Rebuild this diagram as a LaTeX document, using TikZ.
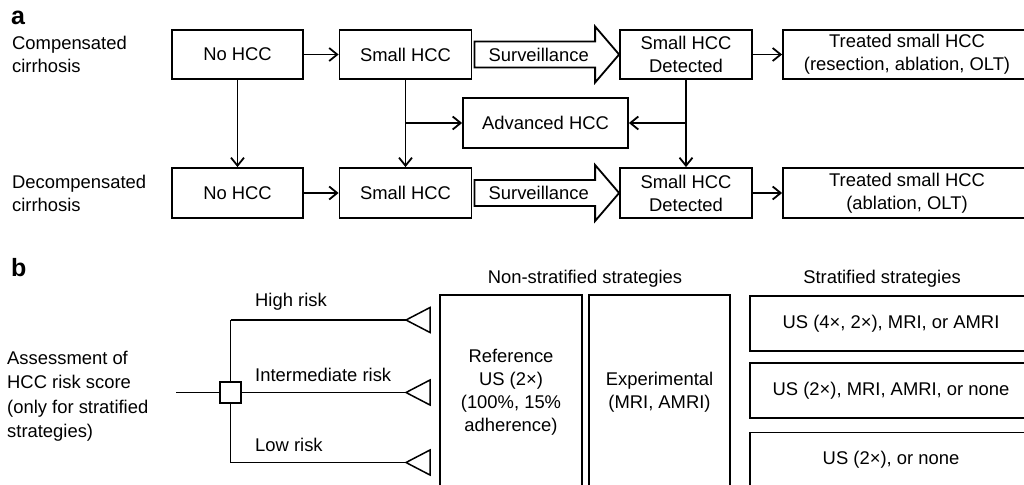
\documentclass[tikz,border=0pt]{standalone}
\usepackage{fontspec}
\setmainfont{Liberation Sans}
\usetikzlibrary{arrows.meta,calc}

% the page: everything reaching over it is cut off
\def\canvas{(0,0) rectangle (1024,484)}

\tikzset{
    box/.style={draw, line width=1.8pt, minimum height=49pt, align=center, inner sep=1pt},
    link/.style={line width=1.8pt, -{Straight Barb[length=8pt,width=13pt]}},
    plain/.style={line width=1.8pt},
    txt/.style={inner sep=0pt, align=left},
    panel/.style={inner sep=0pt, font=\fontsize{25}{25}\selectfont\bfseries},
}

% wide arrow with the word Surveillance, from the east side of #1
% to the west side of #2
\newcommand{\survarrow}[2]{%
    \draw[plain, fill=white]
        ($(#1.east)+(2,-13)$) -- ($(#2.west)+(-24,-13)$)
        -- ($(#2.west)+(-24,-28)$) -- (#2.west)
        -- ($(#2.west)+(-24,28)$) -- ($(#2.west)+(-24,13)$)
        -- ($(#1.east)+(2,13)$) -- cycle;
    \node[txt] (#1surv) at ($(#1.east)!0.5!(#2.west)+(-7,0)$) {Surveillance};
}

\begin{document}
\begin{tikzpicture}[x=1pt, y=-1pt, font=\fontsize{18.4}{23}\selectfont]
    \useasboundingbox \canvas;
    \clip \canvas;

    % ---------- panel a ----------
    \node[panel, anchor=west] (pa) at (11,18) {a};
    \node[txt, anchor=west] (comp) at (12,54.5) {Compensated\\cirrhosis};
    \node[txt, anchor=west] (decomp) at (12,193.5) {Decompensated\\cirrhosis};

    % compensated row
    \node[box, minimum width=131pt] (nohcc1) at (237.5,54.5) {No HCC};
    \node[box, minimum width=132pt] (small1) at (405.5,54.5) {Small HCC};
    \node[box, minimum width=132pt] (det1) at (686,54.5) {Small HCC\\Detected};
    \node[box, minimum width=248pt] (treat1) at (907,54.5)
        {Treated small HCC\\(resection, ablation, OLT)};
    % decompensated row
    \node[box, minimum width=131pt, minimum height=50pt] (nohcc2) at (237.5,193) {No HCC};
    \node[box, minimum width=132pt, minimum height=50pt] (small2) at (405.5,193) {Small HCC};
    \node[box, minimum width=132pt, minimum height=50pt] (det2) at (686,193) {Small HCC\\Detected};
    \node[box, minimum width=248pt, minimum height=50pt] (treat2) at (907,193)
        {Treated small HCC\\(ablation, OLT)};
    % in between
    \node[box, minimum width=165pt, minimum height=50pt] (adv) at (545.5,123) {Advanced HCC};

    \draw[link] (nohcc1) -- (small1);
    \draw[link] (nohcc2) -- (small2);
    \draw[link] (det1) -- (treat1);
    \draw[link] (det2) -- (treat2);
    \draw[link] (nohcc1) -- (nohcc2);
    \draw[link] (small1) -- (small2);
    \draw[link] (det1) -- (det2);
    \draw[link] (small1.south |- adv.west) -- (adv.west);
    \draw[link] (det1.south |- adv.east) -- (adv.east);

    \survarrow{small1}{det1}
    \survarrow{small2}{det2}

    % ---------- panel b ----------
    \node[panel, anchor=west] (pb) at (11,268) {b};
    \node[txt, anchor=west, font=\fontsize{18.4}{24.5}\selectfont] (assess) at (7,396)
        {Assessment of\\HCC risk score\\(only for stratified\\strategies)};

    \node[txt] (nonstrat) at (585,279) {Non-stratified strategies};
    \node[txt] (strat) at (882,279) {Stratified strategies};

    \node[box, minimum width=142pt, minimum height=194pt] (ref) at (511,392)
        {Reference\\US (2×)\\(100\%, 15\%\\adherence)};
    \node[box, minimum width=141pt, minimum height=194pt] (exper) at (659.5,392)
        {Experimental\\(MRI, AMRI)};
    \node[box, minimum width=282pt, minimum height=55pt] (strat1) at (891,323.5)
        {US (4×, 2×), MRI, or AMRI};
    \node[box, minimum width=282pt, minimum height=55pt] (strat2) at (891,390.5)
        {US (2×), MRI, AMRI, or none};
    \node[box, minimum width=282pt, minimum height=55pt] (strat3) at (891,460)
        {US (2×), or none};

    % the decision square and its three branches
    \coordinate (start) at (176,392.5);
    \coordinate (hi) at (406,320);
    \coordinate (mid) at (406,392.5);
    \coordinate (lo) at (406,462.5);
    \draw[plain] (230.5,320) -- (hi);
    \draw[plain] (230.5,320) -- (230.5,462.5) -- (lo);
    \draw[plain] (start) -- (mid);
    \node[draw, line width=1.5pt, fill=white, minimum size=21pt, inner sep=0pt]
        (decide) at (230.5,392.5) {};
    \foreach \c in {hi, mid, lo}
        \draw[line width=1.5pt, line join=miter] (\c) -- ++(24,-12.5) -- ++(0,25) -- cycle;

    \node[txt, anchor=west] (hilbl) at (255,302) {High risk};
    \node[txt, anchor=west] (midlbl) at (255,375) {Intermediate risk};
    \node[txt, anchor=west] (lolbl) at (255,445) {Low risk};
\end{tikzpicture}
\end{document}
